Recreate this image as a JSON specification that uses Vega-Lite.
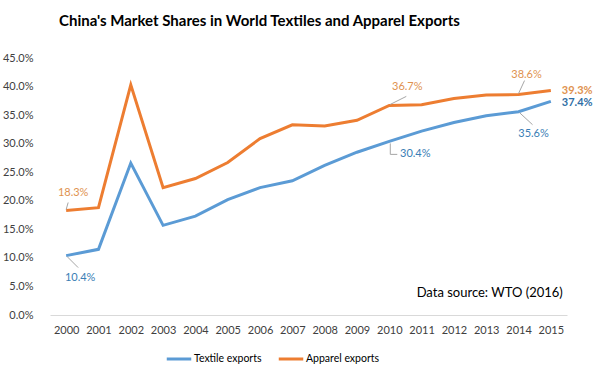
{
  "$schema": "https://vega.github.io/schema/vega-lite/v6.json",
  "width": 517,
  "height": 257,
  "autosize": {"type": "none"},
  "padding": {"left": 50, "top": 58, "right": 44, "bottom": 62},
  "background": "white",
  "config": {"font": "Lato", "view": {"stroke": null}},
  "title": {
    "text": "China's Market Shares in World Textiles and Apparel Exports",
    "fontSize": 15,
    "fontWeight": "bold",
    "font": "Lato",
    "color": "#000000",
    "anchor": "start",
    "frame": "group",
    "dx": 9,
    "offset": 23
  },
  "data": {
    "values": [
      {"year": 2000, "series": "Textile exports", "value": 0.104},
      {"year": 2001, "series": "Textile exports", "value": 0.115},
      {"year": 2002, "series": "Textile exports", "value": 0.266},
      {"year": 2003, "series": "Textile exports", "value": 0.157},
      {"year": 2004, "series": "Textile exports", "value": 0.173},
      {"year": 2005, "series": "Textile exports", "value": 0.202},
      {"year": 2006, "series": "Textile exports", "value": 0.223},
      {"year": 2007, "series": "Textile exports", "value": 0.235},
      {"year": 2008, "series": "Textile exports", "value": 0.262},
      {"year": 2009, "series": "Textile exports", "value": 0.285},
      {"year": 2010, "series": "Textile exports", "value": 0.304},
      {"year": 2011, "series": "Textile exports", "value": 0.322},
      {"year": 2012, "series": "Textile exports", "value": 0.337},
      {"year": 2013, "series": "Textile exports", "value": 0.349},
      {"year": 2014, "series": "Textile exports", "value": 0.356},
      {"year": 2015, "series": "Textile exports", "value": 0.374},
      {"year": 2000, "series": "Apparel exports", "value": 0.183},
      {"year": 2001, "series": "Apparel exports", "value": 0.188},
      {"year": 2002, "series": "Apparel exports", "value": 0.403},
      {"year": 2003, "series": "Apparel exports", "value": 0.223},
      {"year": 2004, "series": "Apparel exports", "value": 0.239},
      {"year": 2005, "series": "Apparel exports", "value": 0.267},
      {"year": 2006, "series": "Apparel exports", "value": 0.309},
      {"year": 2007, "series": "Apparel exports", "value": 0.333},
      {"year": 2008, "series": "Apparel exports", "value": 0.331},
      {"year": 2009, "series": "Apparel exports", "value": 0.341},
      {"year": 2010, "series": "Apparel exports", "value": 0.367},
      {"year": 2011, "series": "Apparel exports", "value": 0.368},
      {"year": 2012, "series": "Apparel exports", "value": 0.379},
      {"year": 2013, "series": "Apparel exports", "value": 0.385},
      {"year": 2014, "series": "Apparel exports", "value": 0.386},
      {"year": 2015, "series": "Apparel exports", "value": 0.393}
    ]
  },
  "encoding": {
    "x": {
      "field": "year",
      "type": "ordinal",
      "scale": {"type": "point", "padding": 0.5},
      "axis": {
        "title": null,
        "labelAngle": 0,
        "labelFontSize": 11,
        "labelColor": "#404040",
        "ticks": false,
        "domainColor": "#d9d9d9",
        "labelPadding": 9
      }
    },
    "y": {
      "field": "value",
      "type": "quantitative",
      "scale": {"domain": [0, 0.45]},
      "axis": {
        "title": null,
        "format": ".1%",
        "values": [0, 0.05, 0.1, 0.15, 0.2, 0.25, 0.3, 0.35, 0.4, 0.45],
        "grid": false,
        "domain": false,
        "ticks": false,
        "labelFontSize": 11,
        "labelColor": "#404040",
        "labelPadding": 17
      }
    }
  },
  "layer": [
    {
      "mark": {"type": "line", "strokeWidth": 3},
      "encoding": {
        "color": {
          "field": "series",
          "type": "nominal",
          "scale": {"domain": ["Textile exports", "Apparel exports"], "range": ["#5B9BD5", "#ED7D31"]},
          "legend": {
            "title": null,
            "orient": "none",
            "legendX": 115,
            "legendY": 287,
            "direction": "horizontal",
            "symbolType": "stroke",
            "symbolStrokeWidth": 3,
            "symbolSize": 600,
            "labelFontSize": 10.5,
            "labelColor": "#000000",
            "labelOffset": 1,
            "columnPadding": 10
          }
        }
      }
    },
    {
      "transform": [{"filter": "datum.series == 'Textile exports' && datum.year == 2000"}],
      "mark": {"type": "rule", "color": "#a6a6a6", "strokeWidth": 1, "xOffset": 1, "x2Offset": 12, "yOffset": 1, "y2Offset": 12},
      "encoding": {"x2": {"field": "year"}, "y2": {"field": "value"}}
    },
    {
      "transform": [{"filter": "datum.series == 'Apparel exports' && datum.year == 2000"}],
      "mark": {"type": "rule", "color": "#a6a6a6", "strokeWidth": 1, "xOffset": 0, "x2Offset": 2, "yOffset": -1, "y2Offset": -8},
      "encoding": {"x2": {"field": "year"}, "y2": {"field": "value"}}
    },
    {
      "transform": [{"filter": "datum.series == 'Apparel exports' && datum.year == 2010"}],
      "mark": {"type": "rule", "color": "#a6a6a6", "strokeWidth": 1, "xOffset": 1, "x2Offset": 17, "yOffset": -1, "y2Offset": -9},
      "encoding": {"x2": {"field": "year"}, "y2": {"field": "value"}}
    },
    {
      "transform": [{"filter": "datum.series == 'Textile exports' && datum.year == 2010"}],
      "mark": {"type": "rule", "color": "#a6a6a6", "strokeWidth": 1, "xOffset": 1, "x2Offset": 1, "yOffset": 2, "y2Offset": 13},
      "encoding": {"x2": {"field": "year"}, "y2": {"field": "value"}}
    },
    {
      "transform": [{"filter": "datum.series == 'Textile exports' && datum.year == 2010"}],
      "mark": {"type": "rule", "color": "#a6a6a6", "strokeWidth": 1, "xOffset": 1, "x2Offset": 8, "yOffset": 13, "y2Offset": 13},
      "encoding": {"x2": {"field": "year"}, "y2": {"field": "value"}}
    },
    {
      "transform": [{"filter": "datum.series == 'Textile exports' && datum.year == 2014"}],
      "mark": {"type": "rule", "color": "#a6a6a6", "strokeWidth": 1, "xOffset": 1, "x2Offset": 14, "yOffset": 1, "y2Offset": 13},
      "encoding": {"x2": {"field": "year"}, "y2": {"field": "value"}}
    },
    {
      "transform": [{"filter": "datum.series == 'Apparel exports' && datum.year == 2014"}],
      "mark": {"type": "rule", "color": "#a6a6a6", "strokeWidth": 1, "xOffset": 0, "x2Offset": 6, "yOffset": -1, "y2Offset": -14},
      "encoding": {"x2": {"field": "year"}, "y2": {"field": "value"}}
    },
    {
      "transform": [{"filter": "datum.series == 'Apparel exports' && datum.year == 2000"}],
      "mark": {"type": "text", "fontSize": 11, "color": "#E0924F", "dx": 7, "dy": -17},
      "encoding": {"text": {"field": "value", "format": ".1%"}}
    },
    {
      "transform": [{"filter": "datum.series == 'Textile exports' && datum.year == 2000"}],
      "mark": {"type": "text", "fontSize": 11, "color": "#3A7EB5", "dx": 14, "dy": 22},
      "encoding": {"text": {"field": "value", "format": ".1%"}}
    },
    {
      "transform": [{"filter": "datum.series == 'Apparel exports' && datum.year == 2010"}],
      "mark": {"type": "text", "fontSize": 11, "color": "#E0924F", "dx": 18, "dy": -18},
      "encoding": {"text": {"field": "value", "format": ".1%"}}
    },
    {
      "transform": [{"filter": "datum.series == 'Textile exports' && datum.year == 2010"}],
      "mark": {"type": "text", "fontSize": 11, "color": "#3A7EB5", "dx": 26, "dy": 13},
      "encoding": {"text": {"field": "value", "format": ".1%"}}
    },
    {
      "transform": [{"filter": "datum.series == 'Apparel exports' && datum.year == 2014"}],
      "mark": {"type": "text", "fontSize": 11, "color": "#E0924F", "dx": 8, "dy": -20},
      "encoding": {"text": {"field": "value", "format": ".1%"}}
    },
    {
      "transform": [{"filter": "datum.series == 'Textile exports' && datum.year == 2014"}],
      "mark": {"type": "text", "fontSize": 11, "color": "#3A7EB5", "dx": 15, "dy": 22},
      "encoding": {"text": {"field": "value", "format": ".1%"}}
    },
    {
      "transform": [{"filter": "datum.series == 'Apparel exports' && datum.year == 2015"}],
      "mark": {"type": "text", "fontSize": 11, "fontWeight": "bold", "color": "#E0924F", "align": "left", "dx": 11, "dy": 0},
      "encoding": {"text": {"field": "value", "format": ".1%"}}
    },
    {
      "transform": [{"filter": "datum.series == 'Textile exports' && datum.year == 2015"}],
      "mark": {"type": "text", "fontSize": 11, "fontWeight": "bold", "color": "#2E6EA6", "align": "left", "dx": 11, "dy": 2},
      "encoding": {"text": {"field": "value", "format": ".1%"}}
    },
    {
      "transform": [{"filter": "datum.series == 'Textile exports' && datum.year == 2015"}],
      "mark": {"type": "text", "fontSize": 13, "color": "#000000", "align": "right", "dx": 12},
      "encoding": {
        "y": {"datum": 0.038, "type": "quantitative"},
        "text": {"value": "Data source: WTO (2016)"}
      }
    }
  ]
}
